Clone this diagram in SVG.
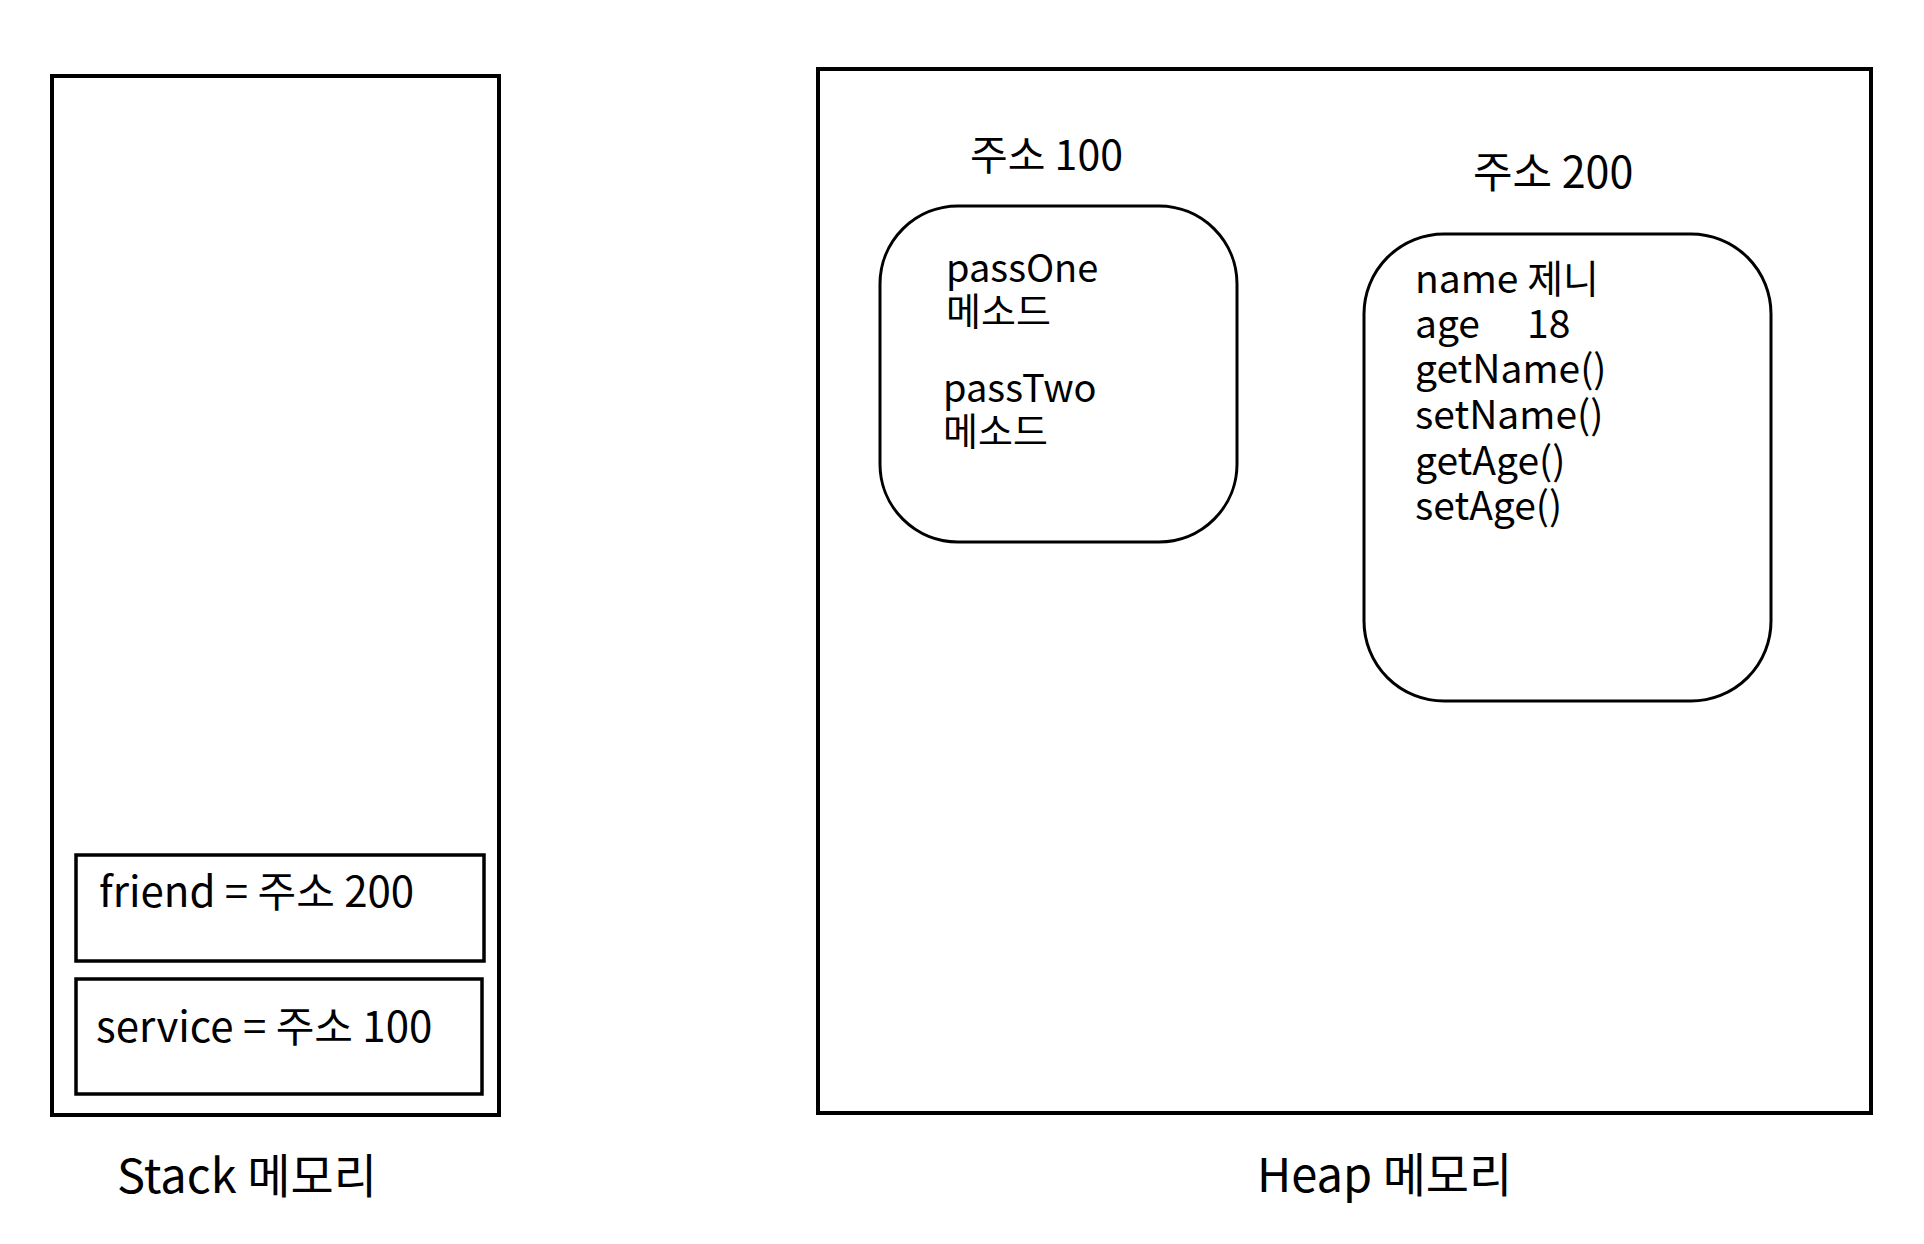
<svg xmlns="http://www.w3.org/2000/svg" width="1924" height="1244" viewBox="0 0 1924 1244">
<style>
text{font-family:"Noto Sans CJK KR","Noto Sans",sans-serif;fill:#000}
.frame{fill:none;stroke:#000;stroke-width:4}
.slot{fill:none;stroke:#000;stroke-width:3.5}
.obj{fill:none;stroke:#000;stroke-width:3}
.lbl{font-size:42px}
.big{font-size:47px}
.in{font-size:38px}
.in2{font-size:39px}
</style>
<rect width="1924" height="1244" fill="#fff"/>
<g id="stack">
<rect class="frame" x="52" y="76" width="447" height="1039"/>
<text class="big" x="117" y="1193">Stack 메모리</text>
</g>
<g id="friend">
<rect class="slot" x="76" y="855" width="408" height="106"/>
<text class="lbl" x="99" y="907">friend = 주소 200</text>
</g>
<g id="service">
<rect class="slot" x="76" y="979" width="406" height="115"/>
<text class="lbl" x="96" y="1042">service = 주소 100</text>
</g>
<g id="heap">
<rect class="frame" x="818" y="69" width="1053" height="1044"/>
<text class="big" x="1257" y="1192">Heap 메모리</text>
</g>
<g id="addr100">
<text style="font-size:41px" x="970" y="170">주소 100</text>
<rect class="obj" x="880" y="206" width="357" height="336" rx="78" ry="78"/>
<text class="in"><tspan x="946" y="282">passOne</tspan><tspan x="946" y="325">메소드</tspan><tspan x="943" y="402">passTwo</tspan><tspan x="943" y="445">메소드</tspan></text>
</g>
<g id="addr200">
<text style="font-size:43px" x="1473" y="188">주소 200</text>
<rect class="obj" x="1364" y="234" width="407" height="467" rx="80" ry="80"/>
<text class="in2"><tspan x="1415" y="293">name 제니</tspan><tspan x="1415" y="338">age</tspan><tspan x="1527" y="338">18</tspan><tspan x="1415" y="383">getName()</tspan><tspan x="1415" y="429">setName()</tspan><tspan x="1415" y="475">getAge()</tspan><tspan x="1415" y="520">setAge()</tspan></text>
</g>
<g id="connectors"/>
</svg>
